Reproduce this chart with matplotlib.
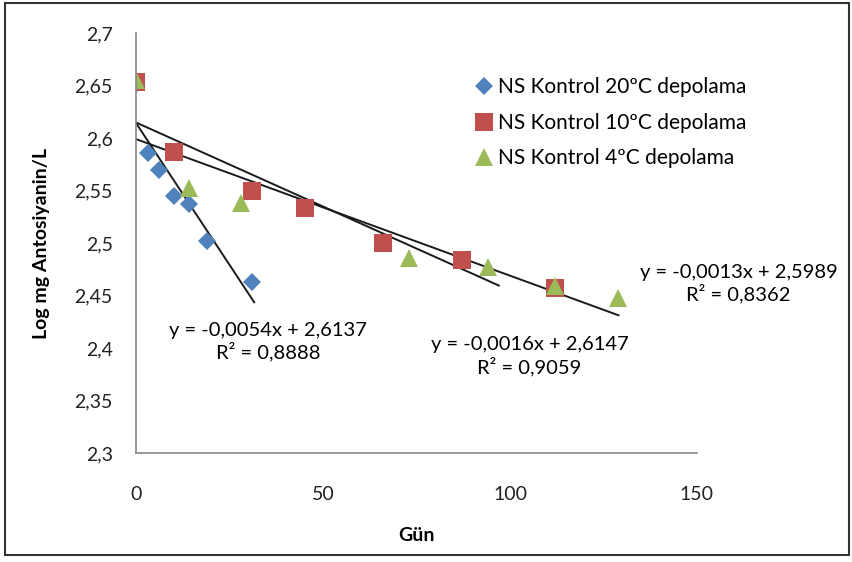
import numpy as np
import matplotlib.pyplot as plt
from matplotlib.patches import Rectangle
from matplotlib.ticker import FuncFormatter

# Veriler
gun_20 = [0, 3, 6, 10, 14, 19, 31]
log_20 = [2.652, 2.586, 2.570, 2.545, 2.537, 2.502, 2.463]

gun_10 = [0, 10, 31, 45, 66, 87, 112]
log_10 = [2.653, 2.587, 2.550, 2.533, 2.500, 2.484, 2.457]

gun_4 = [0, 14, 28, 73, 94, 112, 129]
log_4 = [2.655, 2.552, 2.538, 2.486, 2.477, 2.459, 2.448]

# Trend çizgileri: eğim, kesişim, son x değeri
trend_egim = [-0.0054, -0.0016, -0.0013]
trend_kesisim = [2.6137, 2.6147, 2.5989]
trend_son = [31.5, 97, 129]
trend_metin = ['y = -0,0054x + 2,6137\nR² = 0,8888',
               'y = -0,0016x + 2,6147\nR² = 0,9059',
               'y = -0,0013x + 2,5989\nR² = 0,8362']

plt.rcParams['font.family'] = ['Lato', 'DejaVu Sans']

fig = plt.figure(figsize=(8.53, 5.62), dpi=100)
ax = fig.add_axes([0.160, 0.194, 0.657, 0.747])

ax.plot(gun_20, log_20, 'D', color='#4F81BD', markersize=9, markeredgewidth=0,
        label='NS Kontrol 20ºC depolama')
ax.plot(gun_10, log_10, 's', color='#C0504D', markersize=13, markeredgewidth=0,
        label='NS Kontrol 10ºC depolama')
ax.plot(gun_4, log_4, '^', color='#9BBB59', markersize=12.5, markeredgewidth=0,
        label='NS Kontrol 4ºC depolama')

for egim, kes, son in zip(trend_egim, trend_kesisim, trend_son):
    xs = np.array([0, son])
    ax.plot(xs, egim * xs + kes, color='#1a1a1a', linewidth=1.4, zorder=1)

# Denklem metinleri
ax.text(35.3, 2.4062, trend_metin[0], ha='center', va='center', fontsize=14.5, linespacing=1.2)
ax.text(105.2, 2.392, trend_metin[1], ha='center', va='center', fontsize=14.5, linespacing=1.2)
ax.text(161.2, 2.4614, trend_metin[2], ha='center', va='center', fontsize=14.5, linespacing=1.2,
        clip_on=False)

ax.set_xlim(0, 150)
ax.set_ylim(2.3, 2.7)
ax.set_xticks([0, 50, 100, 150])
ax.set_yticks(np.arange(2.3, 2.7001, 0.05))
ax.yaxis.set_major_formatter(FuncFormatter(lambda v, p: ('%g' % round(v, 2)).replace('.', ',')))
ax.tick_params(length=0, labelsize=14, colors='#222222')
ax.tick_params(axis='y', pad=17)
ax.tick_params(axis='x', pad=24)

for s in ['top', 'right']:
    ax.spines[s].set_visible(False)
for s in ['left', 'bottom']:
    ax.spines[s].set_color('#888888')
    ax.spines[s].set_linewidth(1.2)

ax.set_xlabel('Gün', fontsize=14, fontweight='bold')
ax.set_ylabel('Log mg Antosiyanin/L', fontsize=14, fontweight='bold')
ax.xaxis.set_label_coords(0.5, -0.176)
ax.yaxis.set_label_coords(-0.154, 0.5)

ax.legend(loc='upper left', bbox_to_anchor=(0.585, 0.915), frameon=False, fontsize=15,
          handletextpad=0.1, handlelength=1.1, labelspacing=0.75, borderaxespad=0)

fig.patches.append(Rectangle((0.006, 0.012), 0.989, 0.982, transform=fig.transFigure,
                             fill=False, edgecolor='#333333', linewidth=1.5))

plt.savefig('out.png', dpi=100)
